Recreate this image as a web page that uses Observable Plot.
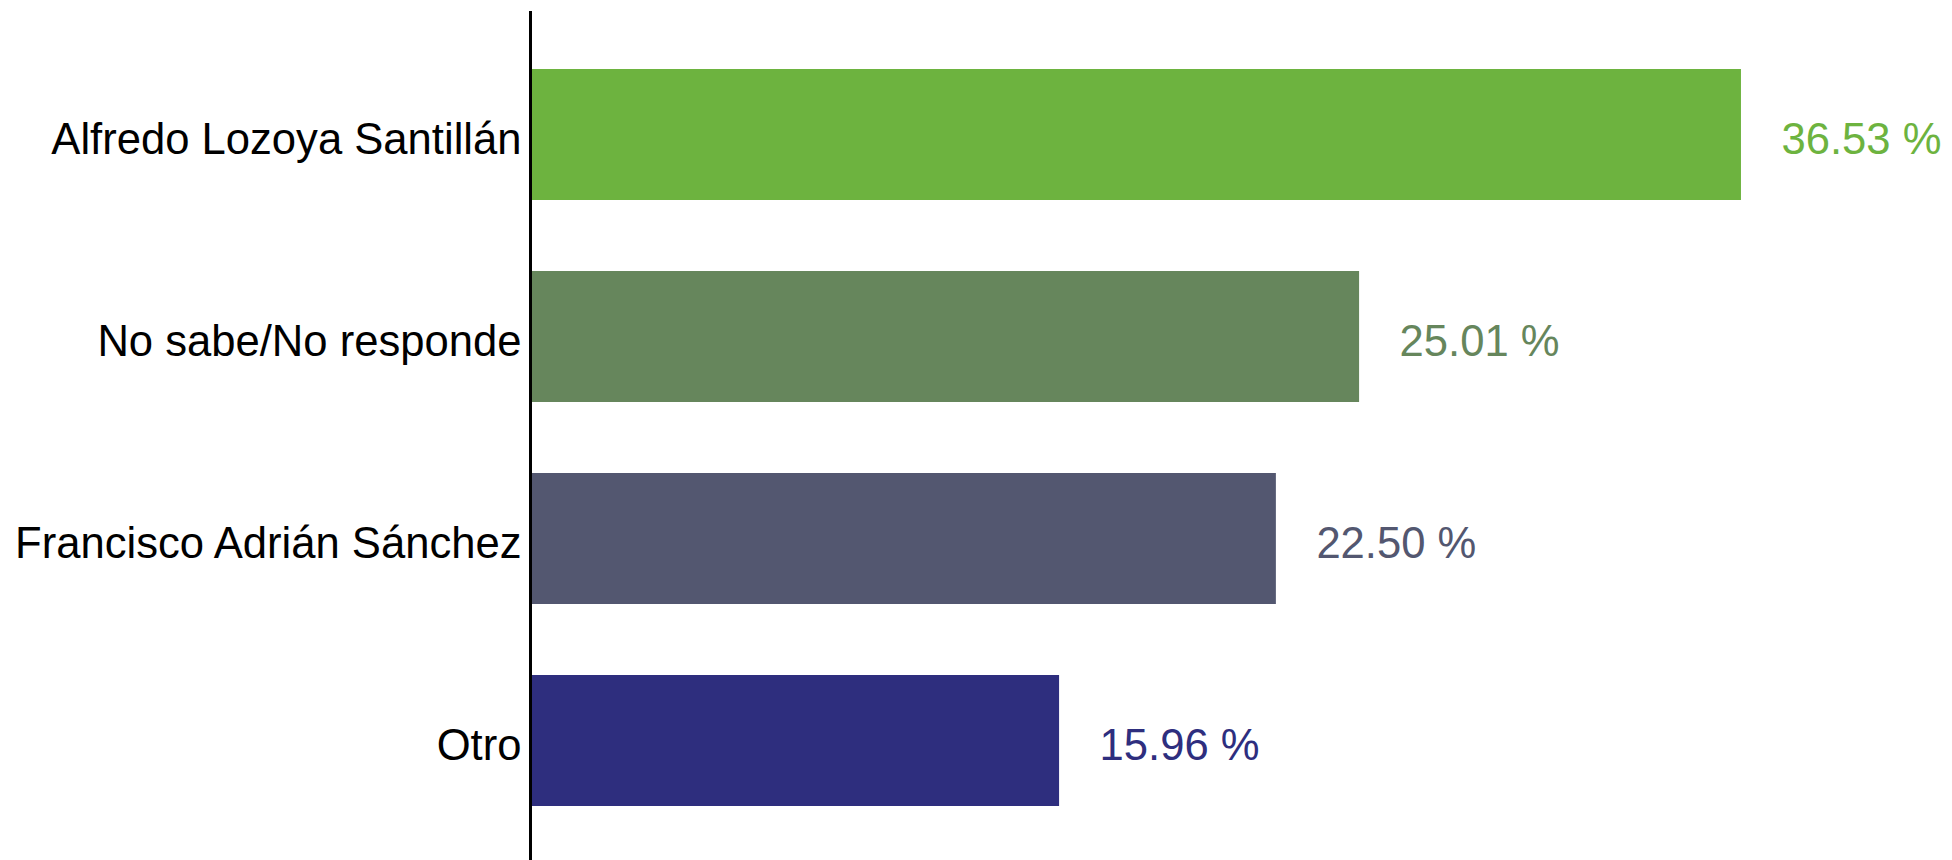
<!DOCTYPE html>
<html>
<head>
<meta charset="utf-8">
<script src="https://cdn.jsdelivr.net/npm/d3@7"></script>
<script src="https://cdn.jsdelivr.net/npm/@observablehq/plot@0.6"></script>
<style>
  html, body { margin: 0; padding: 0; background: #fff; }
  #chart { width: 1952px; height: 860px; }
</style>
</head>
<body>
<div id="chart"></div>
<script>
const categories = ["Alfredo Lozoya Santillán", "No sabe/No responde", "Francisco Adrián Sánchez", "Otro"];
const values = [36.53, 25.01, 22.50, 15.96];
const colors = ["#6db33f", "#66865c", "#535770", "#2e2e7e"];

const data = categories.map((name, i) => ({name, value: values[i]}));

const chart = Plot.plot({
  width: 1952,
  height: 860,
  marginLeft: 530,
  marginRight: 96,
  marginTop: 11,
  marginBottom: 0,
  style: {fontFamily: "'Liberation Sans', Arial, sans-serif", background: "#fff", color: "#000"},
  x: {domain: [0, 40], axis: null},
  y: {domain: categories, paddingInner: 0.352, paddingOuter: 0.176, insetTop: 21.4, insetBottom: 18.4, label: null},
  color: {domain: categories, range: colors},
  marks: [
    Plot.barX(data, {x: "value", y: "name", fill: "name"}),
    Plot.text(data, {
      x: "value", y: "name",
      text: d => d.value.toFixed(2) + " %",
      fill: "name",
      textAnchor: "start",
      dx: 40, dy: 5,
      fontSize: 43.6
    }),
    Plot.axisY({tickSize: 0, tickPadding: 9, fontSize: 43.6, dy: 5, label: null}),
    Plot.ruleX([0], {stroke: "#000", strokeWidth: 3})
  ]
});
document.getElementById("chart").appendChild(chart);
</script>
</body>
</html>
